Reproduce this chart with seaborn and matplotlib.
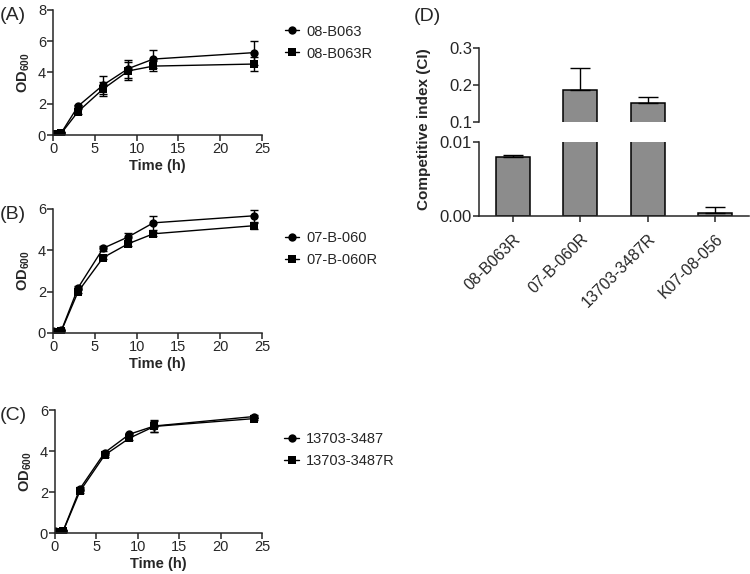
import numpy as np
import pandas as pd
import seaborn as sns
from matplotlib import pyplot as plt

# growth curves (OD600 over time)
time_h = [0, 1, 3, 6, 9, 12, 24]

a_names = ["08-B063", "08-B063R"]
a_wt = [0.08, 0.15, 1.85, 3.2, 4.25, 4.86, 5.27]
a_wt_err = [0.05, 0.05, 0.1, 0.55, 0.58, 0.55, 0.77]
a_mut = [0.05, 0.12, 1.5, 2.95, 4.1, 4.41, 4.54]
a_mut_err = [0.05, 0.05, 0.15, 0.45, 0.58, 0.3, 0.42]

b_names = ["07-B-060", "07-B-060R"]
b_wt = [0.08, 0.12, 2.19, 4.1, 4.65, 5.33, 5.67]
b_wt_err = [0.02, 0.03, 0.08, 0.12, 0.18, 0.35, 0.3]
b_mut = [0.05, 0.1, 2.0, 3.65, 4.32, 4.8, 5.19]
b_mut_err = [0.02, 0.03, 0.06, 0.08, 0.1, 0.1, 0.15]

c_names = ["13703-3487", "13703-3487R"]
c_wt = [0.08, 0.12, 2.15, 3.92, 4.82, 5.22, 5.68]
c_wt_err = [0.02, 0.03, 0.08, 0.1, 0.08, 0.3, 0.08]
c_mut = [0.05, 0.1, 2.03, 3.8, 4.63, 5.2, 5.58]
c_mut_err = [0.02, 0.03, 0.06, 0.08, 0.1, 0.25, 0.05]

# competitive index
strains = ["08-B063R", "07-B-060R", "13703-3487R", "K07-08-056"]
ci = [0.0080, 0.1865, 0.151, 0.0004]
ci_err = [0.0002, 0.06, 0.016, 0.0008]

sns.set_style("ticks")
plt.rcParams["font.family"] = ["Liberation Sans", "DejaVu Sans"]
plt.rcParams["mathtext.fontset"] = "custom"
plt.rcParams["mathtext.rm"] = "Liberation Sans"
plt.rcParams["mathtext.bf"] = "Liberation Sans:bold"
plt.rcParams["axes.linewidth"] = 1.1
plt.rcParams["xtick.major.width"] = 1.1
plt.rcParams["ytick.major.width"] = 1.1
plt.rcParams["xtick.major.size"] = 4
plt.rcParams["ytick.major.size"] = 4

fig = plt.figure(figsize=(7.5, 5.74), dpi=100)

panels = [
    ("(A)", a_names, a_wt, a_wt_err, a_mut, a_mut_err, 8, [0.0707, 0.7648, 0.2787, 0.2178], 0.93),
    ("(B)", b_names, b_wt, b_wt_err, b_mut, b_mut_err, 6, [0.0707, 0.4199, 0.2787, 0.2160], 0.87),
    ("(C)", c_names, c_wt, c_wt_err, c_mut, c_mut_err, 6, [0.0733, 0.0714, 0.2760, 0.2143], 0.87),
]

for tag, names, wt, wt_err, mut, mut_err, ymax, rect, leg_y in panels:
    ax = fig.add_axes(rect)
    df = pd.DataFrame({"time": time_h * 2,
                       "od": wt + mut,
                       "strain": [names[0]] * 7 + [names[1]] * 7})
    sns.lineplot(data=df, x="time", y="od", hue="strain", style="strain",
                 markers=["o", "s"], dashes=False, palette=["black", "black"],
                 markersize=6, linewidth=1, markeredgewidth=0, ax=ax)
    ax.errorbar(time_h, wt, yerr=wt_err, fmt="none", ecolor="black", elinewidth=1, capsize=3)
    ax.errorbar(time_h, mut, yerr=mut_err, fmt="none", ecolor="black", elinewidth=1, capsize=3)
    ax.set_xlim(0, 25)
    ax.set_ylim(0, ymax)
    ax.set_xticks([0, 5, 10, 15, 20, 25])
    ax.set_yticks(np.arange(0, ymax + 1, 2))
    ax.tick_params(labelsize=10.5, pad=1)
    ax.set_xlabel("Time (h)", fontsize=10.5, fontweight="bold", labelpad=2)
    ax.set_ylabel(r"OD$_{\mathbf{600}}$", fontsize=10.5, fontweight="bold", labelpad=4)
    sns.despine(ax=ax)
    ax.legend(loc="upper left", bbox_to_anchor=(1.08, leg_y), frameon=False,
              fontsize=10.5, handlelength=1.0, handletextpad=0.5, labelspacing=0.55,
              borderaxespad=0)
    fig.text(0.0, rect[1] + rect[3] - 0.01, tag, fontsize=14, va="center")

# panel D, broken y axis
ax_top = fig.add_axes([0.6387, 0.7875, 0.3600, 0.1289])
ax_bot = fig.add_axes([0.6387, 0.6237, 0.3600, 0.1289])
bar_df = pd.DataFrame({"strain": strains, "ci": ci})
for ax in (ax_top, ax_bot):
    sns.barplot(data=bar_df, x="strain", y="ci", color="#8c8c8c", saturation=1,
                edgecolor="black", linewidth=1.1, width=0.5, ax=ax)
    ax.errorbar(range(len(strains)), ci, yerr=[[0] * 4, ci_err], fmt="none",
                ecolor="black", elinewidth=1, capsize=7)
    ax.set_xlim(-0.5, 3.5)
    ax.set_xlabel("")
    ax.set_ylabel("")
    ax.tick_params(axis="y", labelsize=12, pad=1)

ax_top.set_ylim(0.1, 0.3)
ax_top.set_yticks([0.1, 0.2, 0.3])
ax_top.set_yticklabels(["0.1", "0.2", "0.3"])
ax_top.set_xticks([])
sns.despine(ax=ax_top, bottom=True)

ax_bot.set_ylim(0, 0.01)
ax_bot.set_yticks([0, 0.01])
ax_bot.set_yticklabels(["0.00", "0.01"])
ax_bot.set_xticks(range(len(strains)))
ax_bot.set_xticklabels(strains, rotation=45, ha="right", rotation_mode="anchor")
ax_bot.tick_params(axis="x", labelsize=11.5, pad=7)
sns.despine(ax=ax_bot)

fig.text(0.566, 0.775, "Competitive index (CI)", rotation=90, fontsize=11,
         fontweight="bold", ha="center", va="center")
fig.text(0.551, 0.972, "(D)", fontsize=14, va="center")

plt.savefig("out.png", dpi=100)
